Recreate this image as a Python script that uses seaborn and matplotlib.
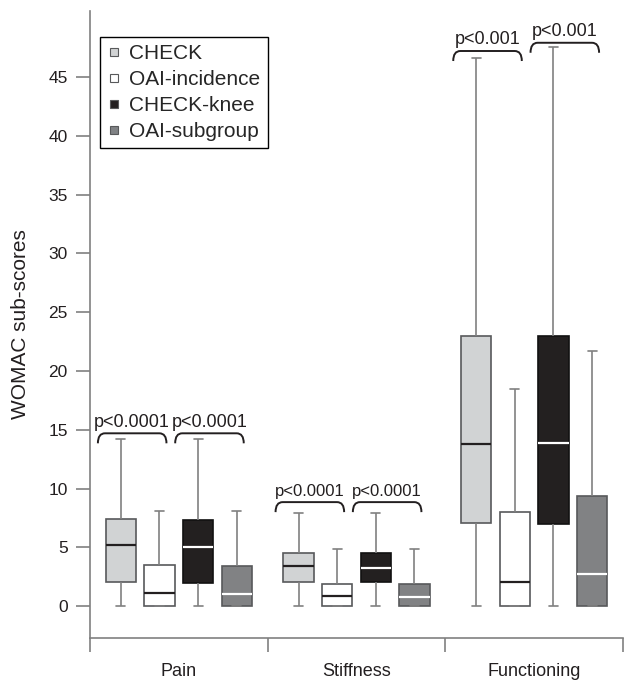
import numpy as np
import pandas as pd
import matplotlib
matplotlib.use("Agg")
import matplotlib.pyplot as plt
from matplotlib.path import Path
from matplotlib.patches import PathPatch
from matplotlib.lines import Line2D
import seaborn as sns

# WOMAC sub-scores, boxar per grupp
categories = ["Pain", "Stiffness", "Functioning"]
groups = ["CHECK", "OAI-incidence", "CHECK-knee", "OAI-subgroup"]

# min, Q1, median, Q3, max per kategori
check_vals = [[0, 2.1, 5.2, 7.4, 14.2], [0, 2.1, 3.4, 4.5, 7.9], [0, 7.05, 13.8, 23.0, 46.6]]
oai_inc_vals = [[0, 0, 1.1, 3.5, 8.1], [0, 0, 0.9, 1.85, 4.85], [0, 0, 2.1, 8.0, 18.5]]
knee_vals = [[0, 1.95, 5.05, 7.3, 14.2], [0, 2.05, 3.25, 4.5, 7.9], [0, 7.0, 13.9, 23.0, 47.5]]
oai_sub_vals = [[0, 0, 1.05, 3.45, 8.1], [0, 0, 0.8, 1.9, 4.85], [0, 0, 2.7, 9.4, 21.7]]

# p-värden ovanför klamrarna (vänster/höger par per kategori)
p_labels = ["p<0.0001", "p<0.0001", "p<0.0001", "p<0.0001", "p<0.001", "p<0.001"]
bracket_y = [14.7, 14.7, 8.85, 8.85, 47.2, 47.9]
p_sizes = [13, 13, 12, 12, 13, 13]

fills = ["#d1d3d4", "#ffffff", "#231f20", "#808285"]
median_cols = ["#231f20", "#231f20", "#ffffff", "#ffffff"]

rows = []
for g, vals in zip(groups, [check_vals, oai_inc_vals, knee_vals, oai_sub_vals]):
    for cat, five in zip(categories, vals):
        for v in five:
            rows.append({"cat": cat, "group": g, "score": v})
df = pd.DataFrame(rows)

sns.set_style("ticks")
plt.rcParams["font.family"] = ["Liberation Sans", "DejaVu Sans"]

fig = plt.figure(figsize=(6.35, 6.88), dpi=100)
ax = fig.add_axes([0.1417, 0.0727, 0.8394, 0.9113])

box_width = 0.87
sns.boxplot(data=df, x="cat", y="score", hue="group", order=categories, hue_order=groups,
            palette=fills, width=box_width, gap=0.22, whis=(0, 100), linecolor="#58595b",
            linewidth=1.2, showfliers=False, legend=False, ax=ax, capwidths=0.05)

for i, cont in enumerate(ax.containers):
    for m in cont.medians:
        m.set_color(median_cols[i])
        m.set_linewidth(1.6)
    for w in list(cont.whiskers) + list(cont.caps):
        w.set_color("#808080")
        w.set_linewidth(1.2)
    if i == 2:
        for b in cont.boxes:
            b.set_edgecolor("#111111")

# klamrar med p-värden
step = box_width / 4
k = 0
for c in range(len(categories)):
    for pair in [(0, 1), (2, 3)]:
        mid = c + ((pair[0] + pair[1]) / 2 - 1.5) * step - 0.045
        x0, x1 = mid - 0.193, mid + 0.193
        y, d, r = bracket_y[k], 0.85, 0.04
        verts = [(x0, y - d), (x0, y), (x0 + r, y), (x1 - r, y), (x1, y), (x1, y - d)]
        codes = [Path.MOVETO, Path.CURVE3, Path.CURVE3, Path.LINETO, Path.CURVE3, Path.CURVE3]
        ax.add_patch(PathPatch(Path(verts, codes), fill=False, edgecolor="#231f20", linewidth=1.4))
        ax.annotate(p_labels[k], xy=(mid, y), xytext=(0, 2), textcoords="offset points",
                    ha="center", va="bottom", fontsize=p_sizes[k], color="#231f20")
        k += 1

handles = [Line2D([], [], marker="s", linestyle="none", markersize=5.5, markerfacecolor=fills[i],
                  markeredgecolor="#58595b", markeredgewidth=0.8) for i in range(len(groups))]
leg = ax.legend(handles, groups, loc="upper left", bbox_to_anchor=(0.019, 0.9585), borderaxespad=0,
                frameon=True, fancybox=False, edgecolor="black", framealpha=1, fontsize=15,
                handlelength=0.6, handletextpad=0.45, labelspacing=0.33, borderpad=0.35)
leg.get_frame().set_linewidth(1.0)

ax.set_xlim(-0.5, 2.5)
ax.set_ylim(-2.7, 50.6)
ax.set_yticks(range(0, 50, 5))
ax.set_xticks(range(len(categories)))
ax.set_xticklabels(categories)
ax.set_xticks([-0.5, 0.5, 1.5, 2.5], minor=True)
ax.tick_params(axis="y", length=10, width=1.2, color="#808080", labelsize=12.5, pad=6, labelcolor="#231f20")
ax.tick_params(axis="x", which="major", length=0, pad=18, labelsize=13, labelcolor="#231f20")
ax.tick_params(axis="x", which="minor", length=10, width=1.2, color="#808080")
ax.set_xlabel("")
ax.set_ylabel("WOMAC sub-scores", fontsize=15, labelpad=13, color="#231f20")

sns.despine(ax=ax)
for s in ["left", "bottom"]:
    ax.spines[s].set_color("#808080")
    ax.spines[s].set_linewidth(1.2)

fig.savefig("out.png", dpi=100)
